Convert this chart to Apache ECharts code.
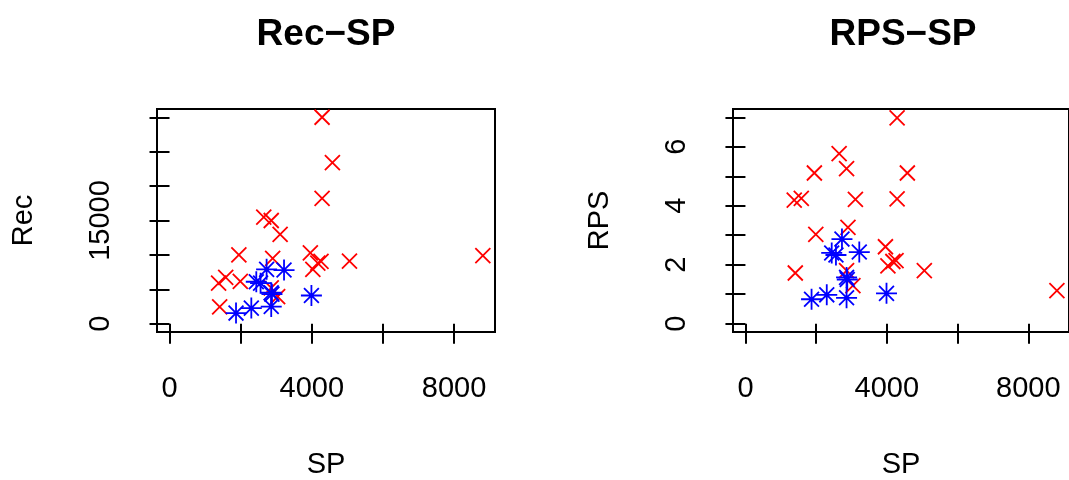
<!DOCTYPE html>
<html><head><meta charset="utf-8">
<script src="https://cdn.jsdelivr.net/npm/echarts@6/dist/echarts.min.js"></script>
<style>html,body{margin:0;padding:0;background:#fff}#c{width:1069px;height:480px}</style>
</head><body><div id="c"></div>
<script>
// Red group (pch 4, "x")
const redSP  = [4290, 4580, 4290, 2650, 2860, 3110, 1950, 2900, 3960, 4170, 4260, 4030, 5060, 8810, 1580, 1380, 1990, 1410, 2860, 3040];
const redRec = [30000, 23400, 18200, 15500, 15000, 13000, 10000, 9500, 10300, 8800, 9050, 7900, 9100, 9900, 6750, 5900, 6150, 2450, 5200, 3950];
const redRPS = [6.98, 5.11, 4.23, 5.77, 5.26, 4.22, 5.11, 3.27, 2.61, 2.11, 2.14, 1.96, 1.80, 1.12, 4.25, 4.19, 3.03, 1.72, 1.80, 1.29];
// Blue group (pch 8, asterisk)
const blueSP  = [2730, 3220, 2440, 2560, 2860, 2880, 3990, 2860, 2300, 1870];
const blueRec = [7900, 7800, 6100, 5900, 4500, 4300, 4100, 2500, 2270, 1550];
const blueRPS = [2.87, 2.43, 2.40, 2.33, 1.57, 1.50, 1.03, 0.88, 0.98, 0.83];
// Axes
const xTicks = [0, 2000, 4000, 6000, 8000];
const xLabels = [0, 4000, 8000];
const recTicks = [0, 5000, 10000, 15000, 20000, 25000, 30000];
const recLabels = [0, 15000];
const rpsTicks = [0, 1, 2, 3, 4, 5, 6, 7];
const rpsLabels = [0, 2, 4, 6];
const titles = ['Rec\u2212SP', 'RPS\u2212SP'];

const FONT = "'Liberation Sans', Arial, Helvetica, sans-serif";
const chart = echarts.init(document.getElementById('c'), null, {renderer: 'canvas'});

const crossPath = 'path://M-10,-10L10,10M-10,10L10,-10';
const starPath = 'path://M-10,-10L10,10M-10,10L10,-10M-14.142,0L14.142,0M0,-14.142L0,14.142';
const plain = v => String(v);

function xAxis(gi) {
  return {
    type: 'value', gridIndex: gi, min: -352, max: 9152,
    name: 'SP', nameLocation: 'middle', nameGap: 118,
    nameTextStyle: {fontFamily: FONT, fontSize: 29, color: '#000'},
    axisLine: {show: false},
    splitLine: {show: false},
    axisTick: {show: true, length: 20, customValues: xTicks, lineStyle: {color: '#000', width: 2}},
    axisLabel: {show: true, customValues: xLabels, formatter: plain, margin: 42, fontFamily: FONT, fontSize: 29, color: '#000'}
  };
}
function yAxis(gi, name, min, max, ticks, labels) {
  return {
    type: 'value', gridIndex: gi, min: min, max: max,
    name: name, nameLocation: 'middle', nameGap: 119,
    nameTextStyle: {fontFamily: FONT, fontSize: 29, color: '#000'},
    axisLine: {show: false},
    splitLine: {show: false},
    axisTick: {show: true, length: 20, customValues: ticks, lineStyle: {color: '#000', width: 2}},
    axisLabel: {show: true, rotate: 90, customValues: labels, formatter: plain, margin: 42, fontFamily: FONT, fontSize: 29, color: '#000'}
  };
}
function pts(xs, ys) { return xs.map((x, i) => [x, ys[i]]); }
function scat(data, xi, yi, color, path, size) {
  return {
    type: 'scatter', xAxisIndex: xi, yAxisIndex: yi, data: data,
    symbol: path, symbolSize: size, silent: true, animation: false,
    itemStyle: {color: color, borderColor: color, borderWidth: 1.8, opacity: 1}
  };
}

chart.setOption({
  animation: false,
  backgroundColor: '#fff',
  grid: [
    {left: 157, top: 109, width: 338, height: 223, show: true, borderColor: '#000', borderWidth: 2, backgroundColor: 'transparent'},
    {left: 733, top: 109, width: 338, height: 223, show: true, borderColor: '#000', borderWidth: 2, backgroundColor: 'transparent'}
  ],
  xAxis: [xAxis(0), xAxis(1)],
  yAxis: [
    yAxis(0, 'Rec', -1200, 31200, recTicks, recLabels),
    yAxis(1, 'RPS', -0.28, 7.28, rpsTicks, rpsLabels)
  ],
  graphic: [
    {type: 'text', x: 326, y: 35, style: {text: titles[0], font: 'bold 37px ' + FONT, fill: '#000', textAlign: 'center', textVerticalAlign: 'middle'}},
    {type: 'text', x: 903, y: 35, style: {text: titles[1], font: 'bold 37px ' + FONT, fill: '#000', textAlign: 'center', textVerticalAlign: 'middle'}}
  ],
  series: [
    scat(pts(redSP, redRec), 0, 0, '#ff0000', crossPath, 15),
    scat(pts(blueSP, blueRec), 0, 0, '#0000ff', starPath, 21),
    scat(pts(redSP, redRPS), 1, 1, '#ff0000', crossPath, 15),
    scat(pts(blueSP, blueRPS), 1, 1, '#0000ff', starPath, 21)
  ]
});
</script>
</body></html>
